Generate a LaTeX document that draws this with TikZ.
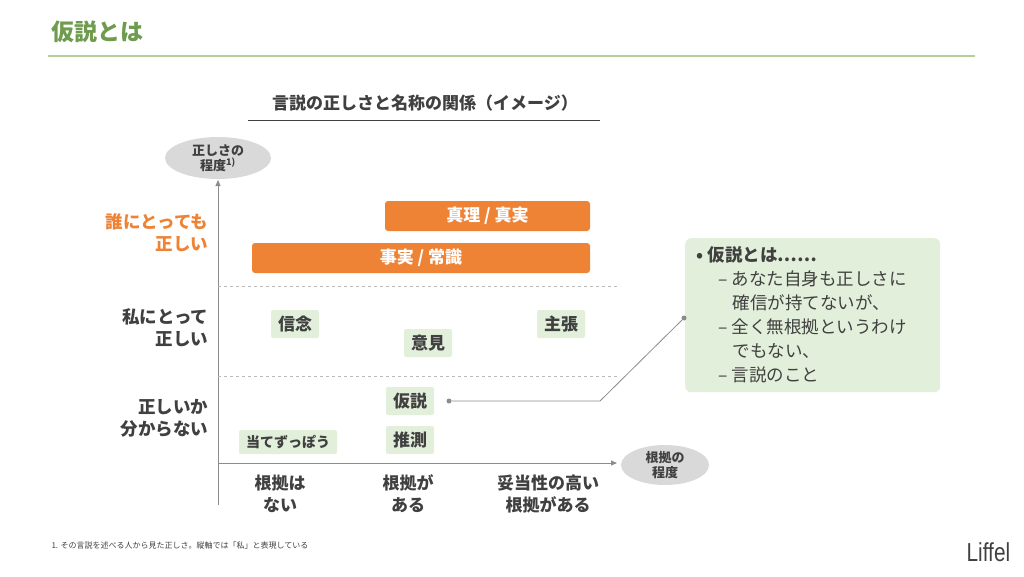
\documentclass[tikz,border=0pt]{standalone}
\usepackage{fontspec}
\setmainfont{Noto Sans CJK JP}
\newfontfamily\logofont{Liberation Sans}
\usetikzlibrary{positioning,arrows.meta,shapes.geometric}
\definecolor{lgreen}{HTML}{E2EFDA}
\definecolor{tgreen}{HTML}{6E9B4E}
\definecolor{rgreen}{HTML}{B5D09C}
\definecolor{bar}{HTML}{EE8235}
\definecolor{txt}{HTML}{404040}
\definecolor{axis}{HTML}{8C8C8C}
\begin{document}
\begin{tikzpicture}[x=1pt,y=-1pt,
  label/.style={font=\fontsize{17.5}{22}\selectfont\bfseries,text=txt,align=right,anchor=east},
  tag/.style={fill=lgreen,rounded corners=2pt,font=\fontsize{17}{19}\selectfont\bfseries,text=txt,inner xsep=7pt,minimum height=28pt},
  orange/.style={fill=bar,rounded corners=3pt,text=white,font=\fontsize{17}{19}\selectfont\bfseries,minimum height=30pt},
  oval/.style={ellipse,fill=black!15,text=txt,font=\fontsize{13}{15}\selectfont\bfseries,align=center,inner sep=0pt},
  xlab/.style={font=\fontsize{17}{22}\selectfont\bfseries,text=txt,align=center},
  dot/.style={circle,fill=axis,inner sep=0pt,minimum size=5pt}]
\useasboundingbox (0,0) rectangle (1024,576);
% heading
\node[anchor=west,font=\fontsize{23}{25}\selectfont\bfseries,text=tgreen] (title) at (48,32) {仮説とは};
\draw[rgreen,line width=1.5pt] (48,56) -- (975,56);
\node[font=\fontsize{17}{19}\selectfont\bfseries,text=txt] (sub) at (425,103) {言説の正しさと名称の関係（イメージ）};
\draw[txt,line width=1pt] (248,120) -- (600,120);
% axes
\node[oval,minimum width=106pt,minimum height=42pt] (yname) at (218,158) {正しさの\\程度\textsuperscript{1)}};
\node[oval,minimum width=88pt,minimum height=40pt] (xname) at (665,465) {根拠の\\程度};
\draw[axis,line width=1pt,-{Triangle[length=6pt,width=5pt]}] (218,505) -- (218,180);
\draw[axis,line width=1pt,-{Triangle[length=6pt,width=5pt]}] (218,463) -- (617,463);
\draw[axis!60,dashed] (218,286) -- (620,286);
\draw[axis!60,dashed] (218,376) -- (620,376);
% row labels
\node[label,text=bar] (r1) at (212,233) {誰にとっても\\正しい};
\node[label] (r2) at (212,328) {私にとって\\正しい};
\node[label] (r3) at (212,418) {正しいか\\分からない};
% bars
\node[orange,minimum width=205pt] (truth) at (487.5,216) {真理 / 真実};
\node[orange,minimum width=338pt] (fact) at (421,258) {事実 / 常識};
% tags
\node[tag] (belief) at (295,324) {信念};
\node[tag] (opinion) at (428,343) {意見};
\node[tag] (claim) at (561,324) {主張};
\node[tag] (hypo) at (410,401) {仮説};
\node[tag] (guess) at (410,440) {推測};
\node[tag,font=\fontsize{14}{16}\selectfont\bfseries,minimum height=24pt] (wild) at (288,442) {当てずっぽう};
% x labels
\node[xlab] (x1) at (280,494) {根拠は\\ない};
\node[xlab] (x2) at (408,494) {根拠が\\ある};
\node[xlab] (x3) at (548,494) {妥当性の高い\\根拠がある};
% callout
\node[fill=lgreen,rounded corners=6pt,minimum width=255pt,minimum height=154pt,anchor=north west] (note) at (685,238) {};
\node[anchor=north west,text=txt,font=\fontsize{17.5}{24}\selectfont,align=left] (notetext) at (693,243)
  {\textbf{•\ 仮説とは……}\\
   \hspace{22pt}– あなた自身も正しさに\\
   \hspace{36pt}確信が持てないが、\\
   \hspace{22pt}– 全く無根拠というわけ\\
   \hspace{36pt}でもない、\\
   \hspace{22pt}– 言説のこと};
\node[dot] (d1) at (449,401) {};
\coordinate (bend) at (600,401);
\node[dot] (d2) at (684,318) {};
\draw[axis,line width=0.8pt] (d1) -- (bend) -- (d2);
% footer
\node[anchor=west,font=\fontsize{8}{9}\selectfont,text=txt] (foot) at (48,545) {1. その言説を述べる人から見た正しさ。縦軸では「私」と表現している};
\node[anchor=east,font=\logofont\fontsize{26}{28}\selectfont,text=txt,xscale=0.8] (logo) at (1013,552) {Liffel};
\end{tikzpicture}
\end{document}
